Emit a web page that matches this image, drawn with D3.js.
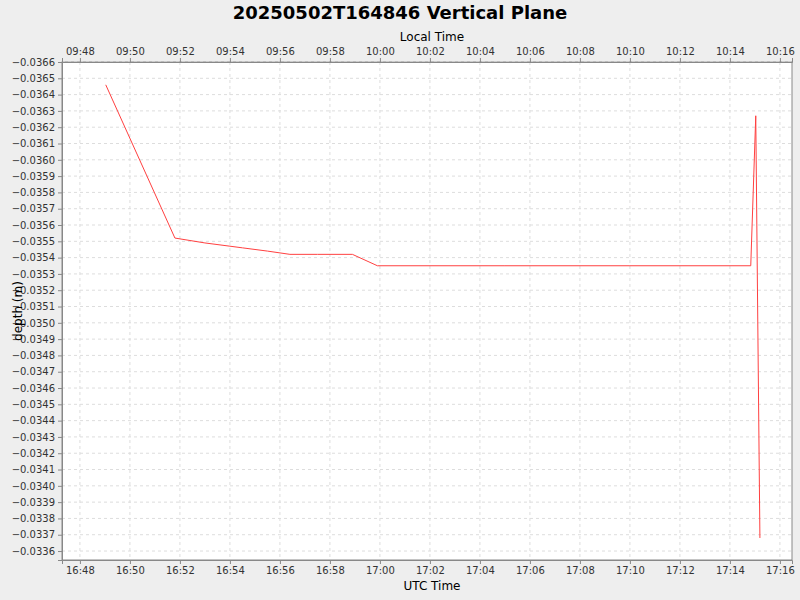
<!DOCTYPE html>
<html><head><meta charset="utf-8">
<script src="https://cdn.jsdelivr.net/npm/d3@7"></script>
<style>body{margin:0;background:#eeeeee}svg{font-family:"DejaVu Sans",sans-serif}</style>
</head><body>
<svg id="c" width="800" height="600"></svg>
<script>
// data: UTC time (HH:MM:SS) and depth (m)
const times = ["16:49:02","16:51:48","16:53:00","16:54:00","16:54:30","16:55:30","16:56:24","16:57:30","16:58:54","16:59:54","17:05:00","17:10:00","17:14:50","17:15:02","17:15:12"];
const depths = [-0.03646,-0.03552,-0.03549,-0.03547,-0.03546,-0.03544,-0.03542,-0.03542,-0.03542,-0.03535,-0.03535,-0.03535,-0.03535,-0.03627,-0.03368];
const yTicks = d3.range(-0.0366, -0.03355, 0.0001);
const localOffsetHours = -7;

const toMin = s => { const [h,m,sec] = s.split(":").map(Number); return h*60+m+sec/60; };
const data = times.map((t,i)=>({x:toMin(t), y:depths[i]}));

const svg = d3.select("#c");
const L=62,R=792,T=62,B=560;
const x = d3.scaleLinear().domain([toMin("16:47:17"), toMin("17:16:29")]).range([L,R]);
const y = d3.scaleLinear().domain([-0.0366, -0.033545]).range([T,B]);

svg.append("rect").attr("x",L).attr("y",T).attr("width",R-L).attr("height",B-T).attr("fill","#fff").attr("stroke","#888");

const xTickVals = d3.range(toMin("16:48:00"), toMin("17:17:00"), 2);
const fmt = (m, off) => { let mm = Math.round(m + off*60); mm = ((mm%1440)+1440)%1440; return String(Math.floor(mm/60)).padStart(2,"0")+":"+String(mm%60).padStart(2,"0"); };

const g = svg.append("g");
xTickVals.forEach(v=>{
  g.append("line").attr("x1",x(v)).attr("x2",x(v)).attr("y1",T).attr("y2",B).attr("stroke","#ddd").attr("stroke-dasharray","3,3");
});
yTicks.forEach(v=>{
  g.append("line").attr("x1",L).attr("x2",R).attr("y1",y(v)).attr("y2",y(v)).attr("stroke","#ddd").attr("stroke-dasharray","3,3");
});

const axB = svg.append("g").attr("transform",`translate(0,${B})`)
  .call(d3.axisBottom(x).tickValues(xTickVals).tickFormat(v=>fmt(v,0)).tickSizeOuter(0).tickSize(4));
const axT = svg.append("g").attr("transform",`translate(0,${T})`)
  .call(d3.axisTop(x).tickValues(xTickVals).tickFormat(v=>fmt(v,localOffsetHours)).tickSizeOuter(0).tickSize(4));
const axL = svg.append("g").attr("transform",`translate(${L},0)`)
  .call(d3.axisLeft(y).tickValues(yTicks).tickFormat(d3.format(".4f")).tickSizeOuter(0).tickSize(4));
[axB,axT,axL].forEach(a=>{a.selectAll("text").attr("font-size",10).attr("fill","#333").attr("font-family","DejaVu Sans");a.selectAll("line,path").attr("stroke","#888");});

svg.append("path").datum(data).attr("fill","none").attr("stroke","#ff4040").attr("stroke-width",1)
  .attr("d", d3.line().x(d=>x(d.x)).y(d=>y(d.y)));

svg.append("text").attr("x",400).attr("y",19).attr("text-anchor","middle").attr("font-size",18).attr("font-weight","bold").text("20250502T164846 Vertical Plane");
svg.append("text").attr("x",432).attr("y",41).attr("text-anchor","middle").attr("font-size",12).text("Local Time");
svg.append("text").attr("x",432).attr("y",590).attr("text-anchor","middle").attr("font-size",12).text("UTC Time");
svg.append("text").attr("transform","translate(22,311) rotate(-90)").attr("text-anchor","middle").attr("font-size",12).text("depth (m)");
</script>
</body></html>
